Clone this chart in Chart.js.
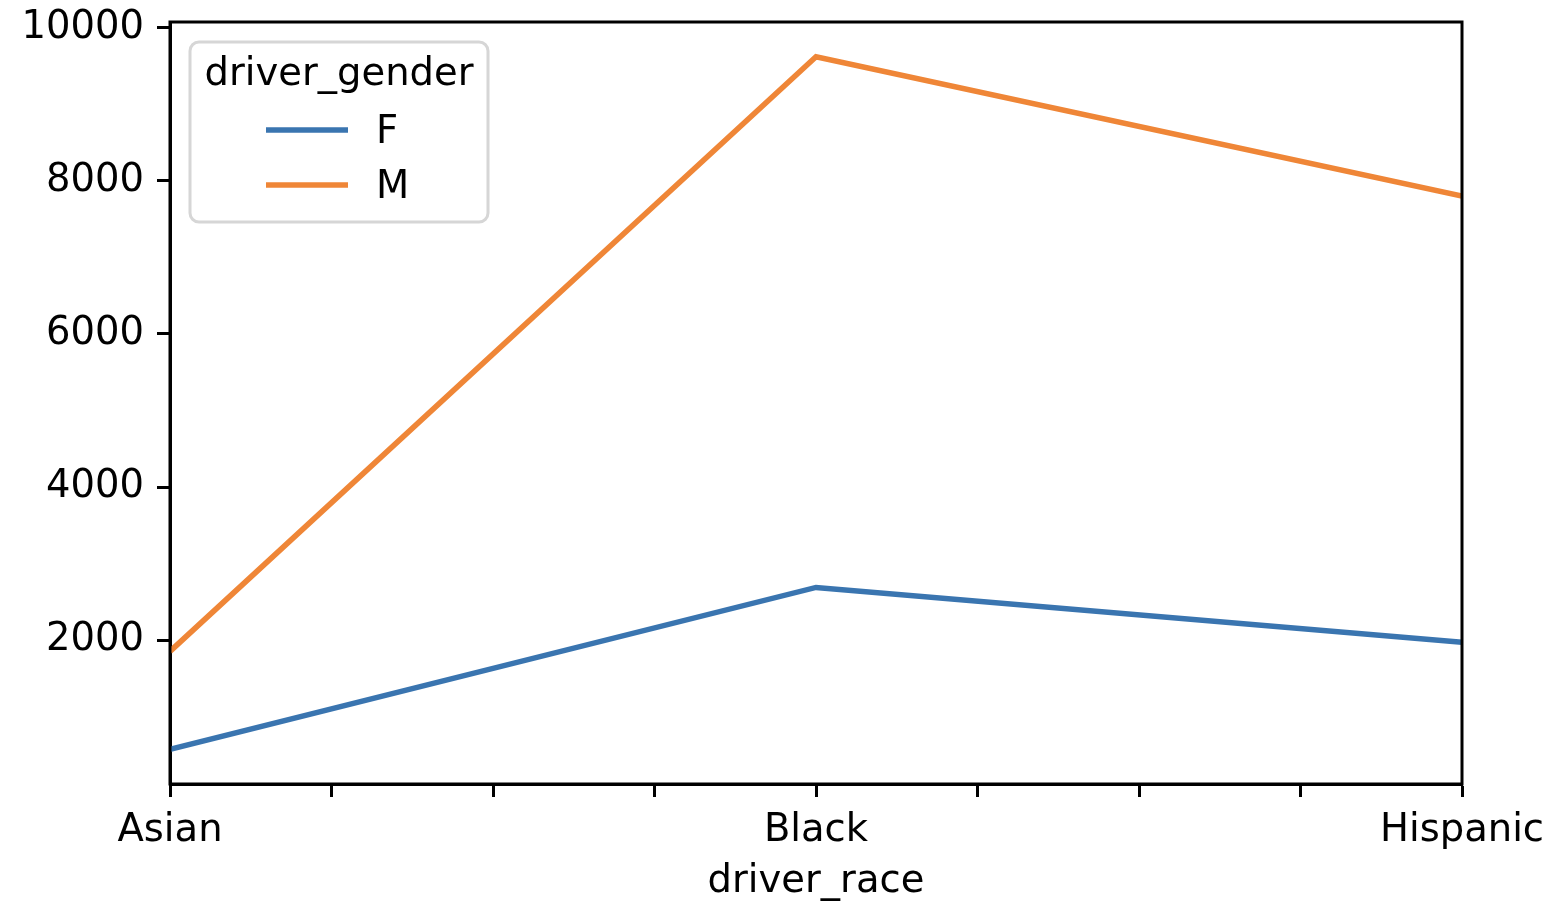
<!DOCTYPE html>
<html>
<head>
<meta charset="utf-8">
<script src="https://cdn.jsdelivr.net/npm/chart.js@4/dist/chart.umd.min.js"></script>
<style>
  html, body { margin: 0; padding: 0; background: #fff; }
  #wrap { width: 1553px; height: 903px; position: relative; }
</style>
</head>
<body>
<div id="wrap"><canvas id="myChart"></canvas></div>
<script>
// data
const races = ['Asian', 'Black', 'Hispanic'];
const femaleStops = [575, 2690, 1975];
const maleStops = [1855, 9620, 7800];
const seriesNames = ['F', 'M'];
const yTicks = [2000, 4000, 6000, 8000, 10000];
const xTicks = [0, 0.25, 0.5, 0.75, 1, 1.25, 1.5, 1.75, 2];

const FONT = 'DejaVu Sans';
const FSIZE = 38.5;
const blue = '#3a75b0';
const orange = '#ef8637';

function toPoints(values) {
  return values.map(function (v, i) { return { x: i, y: v }; });
}

// frame on all four sides + legend box inside the plot
const frameAndLegend = {
  id: 'frameAndLegend',
  afterDraw: function (chart) {
    const c = chart.ctx;
    const a = chart.chartArea;
    c.save();
    c.strokeStyle = '#000';
    c.lineWidth = 3;
    c.strokeRect(a.left, a.top, a.right - a.left, a.bottom - a.top);

    // legend
    const bx = 190, by = 42, bw = 298, bh = 180, r = 9;
    c.beginPath();
    c.roundRect(bx, by, bw, bh, r);
    c.fillStyle = 'rgba(255,255,255,0.8)';
    c.fill();
    c.lineWidth = 3;
    c.strokeStyle = '#d6d6d6';
    c.stroke();

    c.fillStyle = '#000';
    c.font = FSIZE + 'px "' + FONT + '"';
    c.textBaseline = 'middle';
    c.textAlign = 'center';
    c.fillText('driver_gender', bx + bw / 2, 75);

    c.textAlign = 'left';
    const rowsY = [130, 185];
    chart.data.datasets.forEach(function (ds, i) {
      c.beginPath();
      c.strokeStyle = ds.borderColor;
      c.lineWidth = ds.borderWidth;
      c.moveTo(266, rowsY[i]);
      c.lineTo(348, rowsY[i]);
      c.stroke();
      c.fillStyle = '#000';
      c.fillText(ds.label, 376, rowsY[i] + 3);
    });
    c.restore();
  }
};

const ctx = document.getElementById('myChart').getContext('2d');

new Chart(ctx, {
  type: 'line',
  data: {
    datasets: [{
      label: seriesNames[0],
      data: toPoints(femaleStops),
      borderColor: blue,
      borderWidth: 5.5,
      pointRadius: 0,
      tension: 0
    }, {
      label: seriesNames[1],
      data: toPoints(maleStops),
      borderColor: orange,
      borderWidth: 5.5,
      pointRadius: 0,
      tension: 0
    }]
  },
  options: {
    responsive: true,
    maintainAspectRatio: false,
    animation: false,
    layout: {
      padding: { left: 0, right: 91, top: 22, bottom: 0 }
    },
    plugins: {
      legend: { display: false },
      tooltip: { enabled: false }
    },
    scales: {
      x: {
        type: 'linear',
        min: 0,
        max: 2,
        afterBuildTicks: function (scale) {
          scale.ticks = xTicks.map(function (v) { return { value: v }; });
        },
        afterFit: function (scale) {
          scale.height = 119;
          scale.paddingLeft = 0;
          scale.paddingRight = 0;
        },
        grid: {
          drawOnChartArea: false,
          tickLength: 13,
          tickWidth: 3,
          tickColor: '#000'
        },
        border: { color: '#000', width: 3 },
        ticks: {
          padding: 11,
          maxRotation: 0,
          autoSkip: false,
          color: '#000',
          font: { family: FONT, size: FSIZE },
          callback: function (value) {
            return Number.isInteger(value) ? races[value] : '';
          }
        },
        title: {
          display: true,
          text: 'driver_race',
          color: '#000',
          font: { family: FONT, size: FSIZE },
          padding: { top: 0, bottom: -2 }
        }
      },
      y: {
        min: 123,
        max: 10073,
        afterBuildTicks: function (scale) {
          scale.ticks = yTicks.map(function (v) { return { value: v }; });
        },
        afterFit: function (scale) {
          scale.width = 170;
          scale.paddingTop = 0;
          scale.paddingBottom = 0;
        },
        grid: {
          drawOnChartArea: false,
          tickLength: 13,
          tickWidth: 3,
          tickColor: '#000'
        },
        border: { color: '#000', width: 3 },
        ticks: {
          padding: 13,
          color: '#000',
          font: { family: FONT, size: FSIZE },
          callback: function (value) { return String(value); }
        }
      }
    }
  },
  plugins: [frameAndLegend]
});
</script>
</body>
</html>
